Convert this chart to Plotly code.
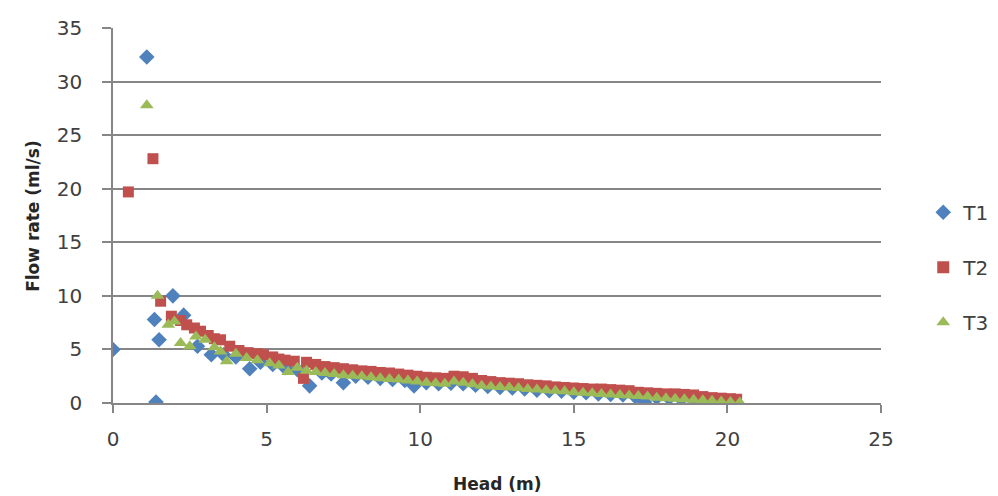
import plotly.graph_objects as go

# T1 (blue diamonds)
t1_head = [0.0, 1.1, 1.35, 1.5, 1.4, 1.95, 2.3, 2.75, 3.2, 3.6, 4.0, 4.45, 4.8, 5.2, 5.6, 6.0,
           6.4, 6.8, 7.1, 7.5, 7.9, 8.3, 8.7, 9.1, 9.5, 9.8, 10.2, 10.6, 11.0, 11.4, 11.8, 12.2,
           12.6, 13.0, 13.4, 13.8, 14.2, 14.6, 15.0, 15.4, 15.8, 16.2, 16.6, 17.0, 17.3, 17.7,
           18.1, 18.5, 18.9, 19.3, 19.7, 20.0]
t1_flow = [5.0, 32.3, 7.8, 5.9, 0.1, 10.0, 8.2, 5.3, 4.5, 4.5, 4.3, 3.2, 3.8, 3.6, 3.3, 3.1,
           1.6, 2.8, 2.7, 1.9, 2.5, 2.4, 2.3, 2.2, 2.1, 1.6, 1.9, 1.8, 1.85, 1.8, 1.65, 1.55,
           1.45, 1.4, 1.3, 1.2, 1.15, 1.1, 1.0, 0.95, 0.85, 0.8, 0.75, 0.6, 0.1, 0.5,
           0.45, 0.35, 0.3, 0.25, 0.15, 0.1]

# T2 (red squares)
t2_head = [0.5, 1.3, 1.55, 1.9, 2.2, 2.4, 2.65, 2.85, 3.1, 3.3, 3.5, 3.8, 4.1, 4.4, 4.7, 4.9,
           5.2, 5.4, 5.6, 5.9, 6.2, 6.3, 6.6, 6.9, 7.2, 7.5, 7.8, 8.1, 8.4, 8.7, 9.0, 9.3,
           9.6, 9.9, 10.2, 10.5, 10.8, 11.1, 11.4, 11.7, 12.0, 12.3, 12.6, 12.9, 13.2, 13.5,
           13.8, 14.1, 14.4, 14.7, 15.0, 15.3, 15.6, 15.9, 16.2, 16.5, 16.8, 17.1, 17.4, 17.7,
           18.0, 18.3, 18.6, 18.9, 19.2, 19.5, 19.8, 20.1, 20.3]
t2_flow = [19.7, 22.8, 9.5, 8.1, 7.7, 7.3, 7.0, 6.7, 6.3, 6.0, 5.9, 5.3, 4.9, 4.7, 4.6, 4.5,
           4.3, 4.1, 4.0, 3.9, 2.3, 3.8, 3.6, 3.4, 3.3, 3.2, 3.1, 3.0, 2.95, 2.85, 2.8, 2.7,
           2.6, 2.5, 2.4, 2.35, 2.3, 2.5, 2.45, 2.3, 2.1, 2.0, 1.9, 1.85, 1.8, 1.7,
           1.65, 1.6, 1.5, 1.45, 1.4, 1.35, 1.3, 1.3, 1.25, 1.2, 1.15, 1.0, 0.95, 0.9,
           0.85, 0.85, 0.8, 0.75, 0.6, 0.5, 0.45, 0.4, 0.35]

# T3 (green triangles)
t3_head = [1.1, 1.45, 1.8, 2.0, 2.2, 2.5, 2.7, 3.0, 3.3, 3.5, 3.7, 4.0, 4.35, 4.7, 5.1, 5.4,
           5.7, 6.0, 6.3, 6.6, 6.9, 7.2, 7.5, 7.8, 8.1, 8.4, 8.7, 9.0, 9.3, 9.6, 9.9, 10.2,
           10.5, 10.8, 11.1, 11.4, 11.7, 12.0, 12.3, 12.6, 12.9, 13.2, 13.5, 13.8, 14.1, 14.4,
           14.7, 15.0, 15.3, 15.6, 15.9, 16.2, 16.5, 16.8, 17.1, 17.4, 17.7, 18.0, 18.3, 18.6,
           18.9, 19.2, 19.5, 19.8, 20.1, 20.4]
t3_flow = [27.8, 10.0, 7.3, 7.6, 5.6, 5.3, 6.2, 5.9, 5.2, 4.8, 3.9, 4.6, 4.2, 4.0, 3.7, 3.5,
           2.9, 3.3, 3.0, 2.9, 2.8, 2.7, 2.6, 2.55, 2.5, 2.4, 2.3, 2.25, 2.2, 2.1, 2.0, 1.9,
           1.85, 1.8, 2.0, 1.9, 1.75, 1.6, 1.55, 1.5, 1.45, 1.4, 1.3, 1.25, 1.2, 1.15,
           1.1, 1.0, 0.95, 0.9, 0.85, 0.8, 0.75, 0.7, 0.65, 0.6, 0.5, 0.45, 0.4, 0.35,
           0.3, 0.25, 0.2, 0.15, 0.1, 0.05]

x_ticks = [0, 5, 10, 15, 20, 25]
y_ticks = [0, 5, 10, 15, 20, 25, 30, 35]

FONT = "DejaVu Sans"
AXIS_GREY = "#868686"

fig = go.Figure()
fig.add_trace(go.Scatter(x=t1_head, y=t1_flow, mode="markers", name="T1", legendgroup="1",
                         marker=dict(symbol="diamond", size=12, color="#4F81BD")))
fig.add_trace(go.Scatter(x=t2_head, y=t2_flow, mode="markers", name="T2", legendgroup="2",
                         marker=dict(symbol="square", size=11, color="#C0504D")))
fig.add_trace(go.Scatter(x=t3_head, y=t3_flow, mode="markers", name="T3", legendgroup="3",
                         marker=dict(symbol="triangle-up", size=12, color="#9BBB59")))

fig.update_layout(
    width=998, height=496,
    margin=dict(l=105, r=118, t=20, b=101),
    paper_bgcolor="white", plot_bgcolor="white",
    font=dict(family=FONT, size=20, color="#404040"),
    showlegend=True,
    legend=dict(x=1.055, xanchor="left", y=0.362, yanchor="middle",
                tracegroupgap=26, font=dict(size=20, color="#404040"),
                itemsizing="constant", bgcolor="rgba(0,0,0,0)"),
    xaxis=dict(range=[0, 25], tickvals=x_ticks, showgrid=False, zeroline=False,
               showline=True, linecolor=AXIS_GREY, linewidth=1.5,
               ticks="outside", ticklen=8, tickcolor=AXIS_GREY, tickwidth=1.5,
               ticklabelstandoff=9, automargin=False,
               tickfont=dict(size=20, color="#404040")),
    yaxis=dict(range=[0, 35], tickvals=y_ticks, showgrid=True, gridcolor=AXIS_GREY, gridwidth=1.5,
               zeroline=False, showline=True, linecolor=AXIS_GREY, linewidth=1.5,
               ticks="outside", ticklen=9, tickcolor=AXIS_GREY, tickwidth=1.5,
               ticklabelstandoff=16, automargin=False,
               tickfont=dict(size=20, color="#404040")),
    annotations=[
        dict(text="<b>Head (m)</b>", xref="paper", yref="paper", x=0.5, y=-0.215,
             xanchor="center", yanchor="middle", showarrow=False,
             font=dict(family=FONT, size=17, color="#262626")),
        dict(text="<b>Flow rate (ml/s)</b>", xref="paper", yref="paper", x=-0.105, y=0.5,
             xanchor="center", yanchor="middle", textangle=-90, showarrow=False,
             font=dict(family=FONT, size=17, color="#262626")),
    ],
)

fig.write_html("out.html")
